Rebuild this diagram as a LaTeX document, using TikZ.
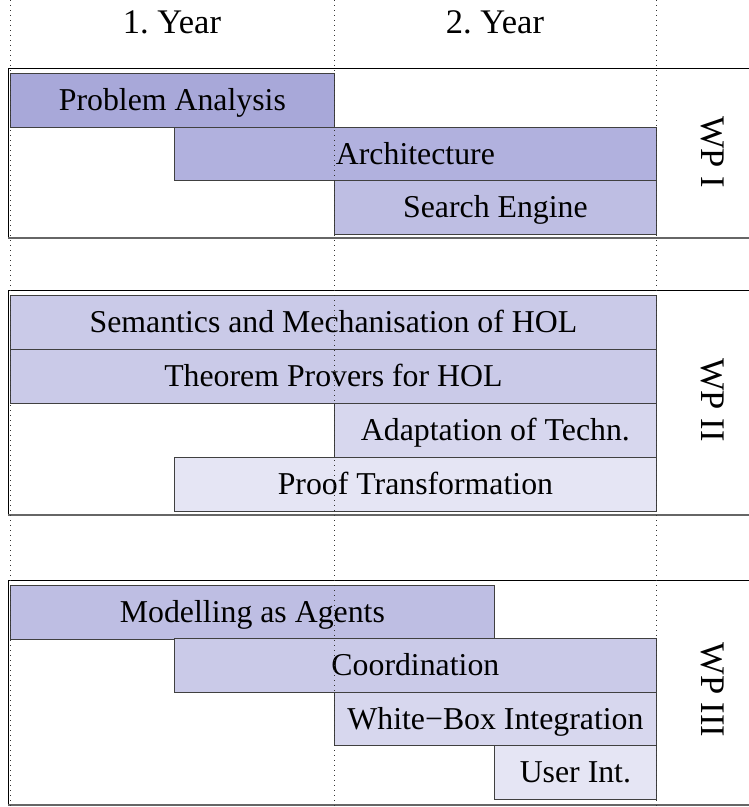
\documentclass[tikz,border=0pt]{standalone}
\usepackage{fontspec}
\setmainfont{Liberation Serif}
\usetikzlibrary{positioning}
\frenchspacing

\begin{document}
\begin{tikzpicture}[x=1pt,y=-1pt,
  bar/.style={draw=black!75, line width=0.8pt, anchor=north west, inner sep=0pt,
    minimum height=53.5pt, text height=27pt, text depth=6pt, font=\fontsize{31.8}{36}\selectfont},
  frame/.style={draw=black, line width=1pt},
  wp/.style={rotate=-90, font=\fontsize{34.5}{40}\selectfont},
  yr/.style={font=\fontsize{34.5}{40}\selectfont},
  grid/.style={line width=0.9pt, dash pattern=on 1pt off 4pt, black!80},
]
\definecolor{barA}{HTML}{A8A8D9}\definecolor{barB}{HTML}{B1B1DE}
\definecolor{barC}{HTML}{BEBEE3}\definecolor{barD}{HTML}{CACAE8}
\definecolor{barE}{HTML}{D7D7EE}\definecolor{barF}{HTML}{E5E5F4}
\useasboundingbox (0,0) rectangle (749,807);
\clip (0,0) rectangle (749,807);
% years
\node[yr] (y1) at (172,22) {1. Year};
\node[yr] (y2) at (495,22) {2. Year};
% ---- WP I ----
\draw[frame] (8,68) rectangle (770,238);
\draw[line width=2.5pt, black!60] (8,238) -- (770,238);
\node[bar, fill=barA, minimum width=324pt] (prob) at (10,73) {Problem Analysis};
\node[bar, fill=barB, minimum width=482pt] (arch) at (174,126.5) {Architecture};
\node[bar, fill=barC, minimum width=322pt] (search) at (334,180) {Search Engine};
\node[wp] (wp1) at (713,152) {WP I};
% ---- WP II ----
\draw[frame] (8,290) rectangle (770,515);
\draw[line width=2.5pt, black!60] (8,515) -- (770,515);
\node[bar, fill=barD, minimum width=646pt] (sem) at (10,295) {Semantics and Mechanisation of HOL};
\node[bar, fill=barD, minimum width=646pt] (prov) at (10,349) {Theorem Provers for HOL};
\node[bar, fill=barE, minimum width=322pt] (adapt) at (334,403) {Adaptation of Techn.};
\node[bar, fill=barF, minimum width=482pt] (trans) at (174,457) {Proof Transformation};
\node[wp] (wp2) at (713,400) {WP II};
% ---- WP III ----
\draw[frame] (8,580) rectangle (770,805);
\draw[line width=2.5pt, black!60] (8,805) -- (770,805);
\node[bar, fill=barC, minimum width=484pt] (agents) at (10,585) {Modelling as Agents};
\node[bar, fill=barD, minimum width=482pt] (coord) at (174,638) {Coordination};
\node[bar, fill=barE, minimum width=322pt] (wbox) at (334,691.5) {White−Box Integration};
\node[bar, fill=barF, minimum width=162pt] (uint) at (494,745) {User Int.};
\node[wp] (wp3) at (713,690) {WP III};
% year grid
\foreach \gx in {10,334,656}
  \draw[grid] (\gx,0) -- (\gx,807);
\end{tikzpicture}
\end{document}
